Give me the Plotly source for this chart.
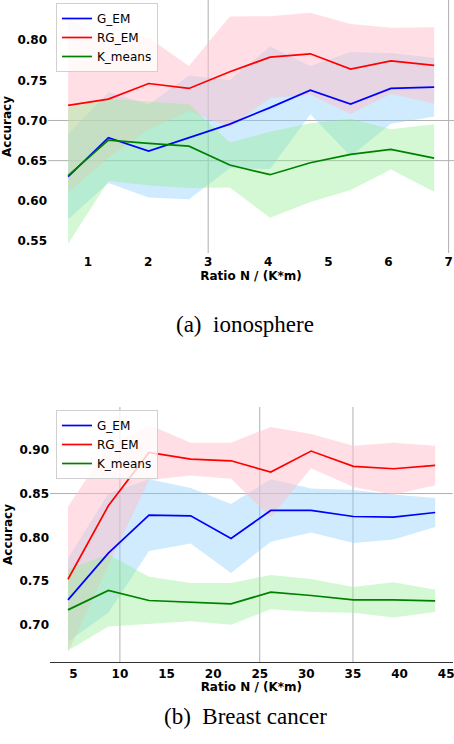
import plotly.graph_objects as go

# ionosphere (top)
ratio_a = [0.67, 1.34, 2.01, 2.68, 3.36, 4.03, 4.70, 5.37, 6.04, 6.76]
gem_a = [0.630, 0.6785, 0.662, 0.679, 0.6955, 0.716, 0.7378, 0.7204, 0.7399, 0.7415]
gem_a_std = [0.053, 0.0565, 0.058, 0.077, 0.055, 0.0765, 0.030, 0.065, 0.044, 0.0365]
rgem_a = [0.7187, 0.7266, 0.746, 0.7399, 0.7606, 0.7789, 0.783, 0.764, 0.7743, 0.7685]
rgem_a_std = [0.108, 0.073, 0.057, 0.028, 0.069, 0.051, 0.051, 0.056, 0.041, 0.0475]
km_a = [0.6313, 0.6756, 0.6715, 0.668, 0.6445, 0.6325, 0.6474, 0.6578, 0.664, 0.6532]
km_a_std = [0.0848, 0.051, 0.052, 0.052, 0.028, 0.0535, 0.049, 0.0444, 0.025, 0.042]

# breast cancer (bottom)
ratio_b = [4.43, 8.76, 13.12, 17.59, 21.92, 26.18, 30.51, 35.05, 39.35, 43.82]
gem_b = [0.7286, 0.782, 0.8254, 0.8246, 0.7987, 0.8307, 0.8307, 0.8238, 0.8231, 0.8284]
gem_b_std = [0.0476, 0.068, 0.041, 0.0317, 0.0395, 0.0357, 0.0252, 0.0303, 0.0257, 0.0166]
rgem_b = [0.7522, 0.836, 0.897, 0.8893, 0.8874, 0.8745, 0.8985, 0.881, 0.8783, 0.8821]
rgem_b_std = [0.083, 0.068, 0.0316, 0.0187, 0.0206, 0.0515, 0.0195, 0.0236, 0.0297, 0.0225]
km_b = [0.7172, 0.7393, 0.7279, 0.726, 0.7241, 0.7374, 0.7336, 0.7286, 0.7286, 0.7275]
km_b_std = [0.0465, 0.041, 0.027, 0.0219, 0.0238, 0.0196, 0.0188, 0.0147, 0.02, 0.0127]

names = ['G_EM', 'RG_EM', 'K_means']
line_colors = ['blue', 'red', 'green']
band_colors = ['rgba(135,206,250,0.4)', 'rgba(255,192,203,0.5)', 'rgba(144,238,144,0.4)']

# grid lines that show in the picture
grid_a_x = [3, 7]
grid_a_y = [0.65, 0.70]
grid_b_x = [10, 25, 35]
grid_b_y = [0.85]

fig = go.Figure()


def add_panel(x, series, xa, ya, legend):
    for (m, s), c in zip(series, band_colors):
        up = [a + b for a, b in zip(m, s)]
        lo = [a - b for a, b in zip(m, s)]
        fig.add_trace(go.Scatter(x=x + x[::-1], y=up + lo[::-1], fill='toself',
                                 fillcolor=c, line=dict(width=0), mode='lines',
                                 hoverinfo='skip', showlegend=False,
                                 xaxis=xa, yaxis=ya))
    for (m, s), n, c in zip(series, names, line_colors):
        fig.add_trace(go.Scatter(x=x, y=m, mode='lines', name=n,
                                 line=dict(color=c, width=1.7),
                                 xaxis=xa, yaxis=ya, legend=legend))


add_panel(ratio_a, [(gem_a, gem_a_std), (rgem_a, rgem_a_std), (km_a, km_a_std)], 'x', 'y', 'legend')
add_panel(ratio_b, [(gem_b, gem_b_std), (rgem_b, rgem_b_std), (km_b, km_b_std)], 'x2', 'y2', 'legend2')

shapes = []
for v in grid_a_x:
    shapes.append(dict(type='line', xref='x', yref='y domain', x0=v, x1=v, y0=0, y1=1,
                       line=dict(color='#b0b0b0', width=1), layer='below'))
for v in grid_a_y:
    shapes.append(dict(type='line', xref='x domain', yref='y', x0=0, x1=1, y0=v, y1=v,
                       line=dict(color='#b0b0b0', width=1), layer='below'))
for v in grid_b_x:
    shapes.append(dict(type='line', xref='x2', yref='y2 domain', x0=v, x1=v, y0=0, y1=1,
                       line=dict(color='#b0b0b0', width=1), layer='below'))
for v in grid_b_y:
    shapes.append(dict(type='line', xref='x2 domain', yref='y2', x0=0, x1=1, y0=v, y1=v,
                       line=dict(color='#b0b0b0', width=1), layer='below'))

tick_font = dict(family='DejaVu Sans', size=12, color='black', weight='bold')
title_font = dict(family='DejaVu Sans', size=12, color='black', weight='bold')
axis_common = dict(showgrid=False, zeroline=False, ticks='', tickfont=tick_font,
                   automargin=False, ticklabeloverflow='allow')

leg_common = dict(x=56 / 454, xanchor='left', yanchor='top',
                  bgcolor='rgba(255,255,255,0.8)', bordercolor='#d0d0d0', borderwidth=1,
                  font=dict(family='DejaVu Sans', size=12, color='black'),
                  tracegroupgap=0)

fig.update_layout(
    width=454, height=744,
    margin=dict(l=0, r=0, t=0, b=0, autoexpand=False),
    plot_bgcolor='white', paper_bgcolor='white',
    shapes=shapes,
    xaxis=dict(domain=[48 / 454, 1.0], range=[0.335, 7.09], tickvals=[1, 2, 3, 4, 5, 6, 7],
               anchor='y', title=dict(text='Ratio N / (K*m)', font=title_font, standoff=2),
               **axis_common),
    yaxis=dict(domain=[491 / 744, 1.0], range=[0.535, 0.85],
               tickvals=[0.55, 0.60, 0.65, 0.70, 0.75, 0.80], tickformat='.2f',
               anchor='x', title=dict(text='Accuracy', font=title_font, standoff=4),
               **axis_common),
    xaxis2=dict(domain=[50 / 454, 452.7 / 454], range=[2.5, 45.7],
                tickvals=[5, 10, 15, 20, 25, 30, 35, 40, 45], anchor='y2',
                showline=True, linecolor='#333333', linewidth=1.2,
                title=dict(text='Ratio N / (K*m)', font=title_font, standoff=2),
                **axis_common),
    yaxis2=dict(domain=[82 / 744, 337 / 744], range=[0.6577, 0.9488],
                tickvals=[0.70, 0.75, 0.80, 0.85, 0.90], tickformat='.2f',
                anchor='x2', title=dict(text='Accuracy', font=title_font, standoff=4),
                **axis_common),
    legend=dict(y=1 - 3 / 744, **leg_common),
    legend2=dict(y=1 - 410 / 744, **leg_common),
    annotations=[
        dict(text='(a)\u00a0 ionosphere', x=245 / 454, y=1 - 325 / 744, xref='paper', yref='paper',
             showarrow=False, font=dict(family='Liberation Serif', size=23, color='black')),
        dict(text='(b)\u00a0 Breast cancer', x=245 / 454, y=1 - 731 / 744, xref='paper', yref='paper',
             showarrow=False, font=dict(family='Liberation Serif', size=23, color='black')),
    ],
)

# the page's default body margin would push the figure 8px in
fig.write_html('out.html', config={'displayModeBar': False},
               post_script="document.body.style.margin='0';")
